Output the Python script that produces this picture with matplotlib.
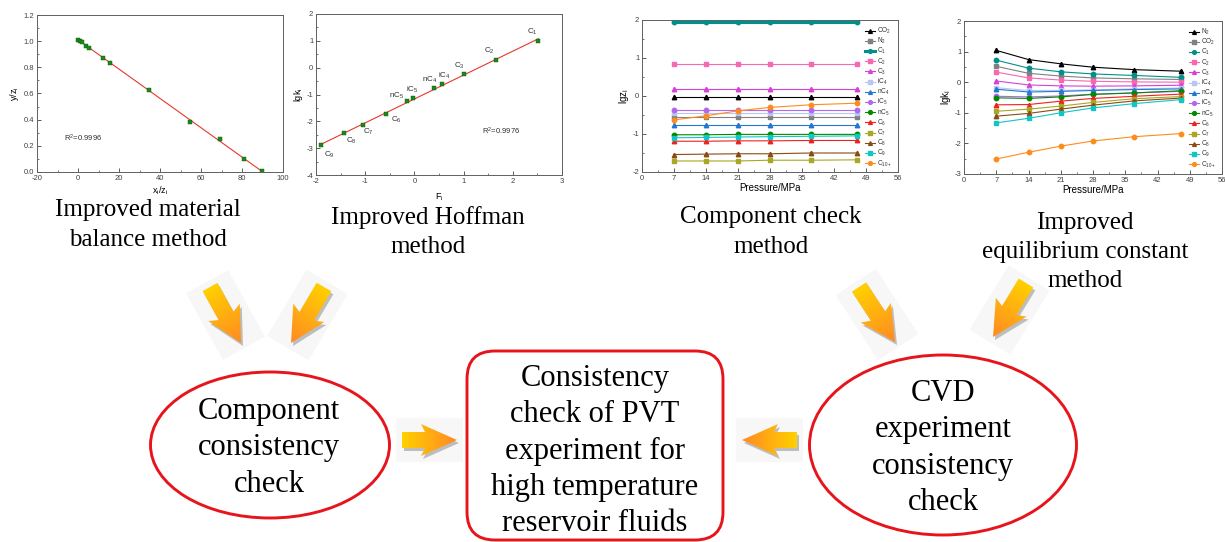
import numpy as np
import matplotlib
matplotlib.use("Agg")
import matplotlib.pyplot as plt
from matplotlib.patches import Ellipse, FancyBboxPatch, Polygon
from matplotlib.colors import LinearSegmentedColormap
from matplotlib.ticker import MultipleLocator

plt.rcParams['font.family'] = ['Liberation Sans', 'DejaVu Sans']
plt.rcParams['mathtext.default'] = 'regular'
plt.rcParams['axes.unicode_minus'] = False

# === Data ===
# improved material balance method
mb_x = [0.2, 1.0, 1.8, 3.8, 5.5, 12.3, 15.4, 34.5, 54.5, 69.5, 81.0, 89.8]
mb_y = [1.01, 1.005, 0.99, 0.965, 0.95, 0.873, 0.835, 0.627, 0.38, 0.25, 0.10, 0.005]
mb_r2 = "R$^2$=0.9996"

# improved Hoffman method
hof_names = ['C$_9$', 'C$_8$', 'C$_7$', 'C$_6$', 'nC$_5$', 'iC$_5$',
             'nC$_4$', 'iC$_4$', 'C$_3$', 'C$_2$', 'C$_1$']
hof_F = [-1.89, -1.44, -1.05, -0.58, -0.16, -0.03, 0.40, 0.56, 1.0, 1.66, 2.52]
hof_lgk = [-2.9, -2.44, -2.15, -1.74, -1.26, -1.13, -0.76, -0.61, -0.24, 0.28, 1.0]
hof_r2 = "R$^2$=0.9976"

pressure = [7, 14, 21, 28, 37, 47]

# component check method (lgz_i)
zi_names = ['CO$_2$', 'N$_2$', 'C$_1$', 'C$_2$', 'C$_3$', 'iC$_4$', 'nC$_4$',
            'iC$_5$', 'nC$_5$', 'C$_6$', 'C$_7$', 'C$_8$', 'C$_9$', 'C$_{10+}$']
zi_values = [
    [-0.02, -0.02, -0.02, -0.02, -0.02, -0.02],
    [-0.56, -0.56, -0.56, -0.56, -0.56, -0.56],
    [1.96, 1.96, 1.96, 1.96, 1.96, 1.96],
    [0.84, 0.84, 0.84, 0.84, 0.84, 0.84],
    [0.18, 0.18, 0.18, 0.18, 0.18, 0.18],
    [-0.45, -0.45, -0.45, -0.45, -0.45, -0.45],
    [-0.76, -0.76, -0.76, -0.76, -0.76, -0.76],
    [-0.36, -0.36, -0.36, -0.36, -0.36, -0.36],
    [-1.02, -1.02, -1.01, -1.01, -1.01, -1.01],
    [-1.19, -1.19, -1.18, -1.18, -1.17, -1.17],
    [-1.71, -1.71, -1.71, -1.69, -1.69, -1.68],
    [-1.54, -1.53, -1.52, -1.52, -1.50, -1.50],
    [-1.10, -1.09, -1.08, -1.07, -1.06, -1.05],
    [-0.63, -0.52, -0.39, -0.30, -0.23, -0.19],
]

# improved equilibrium constant method (lgk_i)
ki_names = ['N$_2$', 'CO$_2$', 'C$_1$', 'C$_2$', 'C$_3$', 'iC$_4$', 'nC$_4$',
            'iC$_5$', 'nC$_5$', 'C$_6$', 'C$_7$', 'C$_8$', 'C$_9$', 'C$_{10+}$']
ki_values = [
    [1.04, 0.74, 0.60, 0.49, 0.41, 0.36],
    [0.52, 0.29, 0.20, 0.14, 0.11, 0.09],
    [0.72, 0.46, 0.34, 0.27, 0.22, 0.16],
    [0.33, 0.14, 0.07, 0.03, 0.01, 0.00],
    [0.04, -0.09, -0.12, -0.13, -0.12, -0.10],
    [-0.18, -0.27, -0.27, -0.25, -0.22, -0.19],
    [-0.23, -0.32, -0.30, -0.27, -0.24, -0.22],
    [-0.46, -0.48, -0.45, -0.39, -0.35, -0.30],
    [-0.51, -0.53, -0.48, -0.40, -0.35, -0.28],
    [-0.74, -0.73, -0.62, -0.53, -0.46, -0.39],
    [-0.95, -0.88, -0.78, -0.66, -0.54, -0.47],
    [-1.11, -1.02, -0.88, -0.75, -0.61, -0.52],
    [-1.33, -1.18, -1.00, -0.84, -0.70, -0.57],
    [-2.51, -2.29, -2.09, -1.92, -1.78, -1.68],
]

# style per legend slot
series_colors = ['#000000', '#808080', '#00908c', '#f768b0', '#d83fd8', '#b9c6f2',
                 '#1f78d1', '#b366f0', '#008a00', '#f02020', '#a8a822', '#8b4a14',
                 '#12c6c6', '#ff8c1a']
series_markers = ['^', 's', 'o', 's', '^', 's', '^', 'o', 'o', '^', 's', '^', 's', 'o']

W, H = 1225, 542
fig = plt.figure(figsize=(W / 100, H / 100), dpi=100)


def px_axes(l, t, r, b):
    return fig.add_axes([l / W, 1 - b / H, (r - l) / W, (b - t) / H])


def style_ax(ax):
    for s in ax.spines.values():
        s.set_color('#606060')
        s.set_linewidth(0.7)
    ax.tick_params(which='both', direction='in', top=False, right=False,
                   labelsize=5.5, colors='#404040', pad=2)
    ax.tick_params(which='major', length=3, width=0.6)
    ax.tick_params(which='minor', length=1.6, width=0.5)


# =====================================================================
# overlay for the flow diagram (pixel coordinates)
# =====================================================================
ov = fig.add_axes([0, 0, 1, 1])
ov.set_xlim(0, W)
ov.set_ylim(H, 0)
ov.axis('off')

grad_cmap = LinearSegmentedColormap.from_list('arr', ['#ffd000', '#ff8a24'])


def arrow(tail, tip, sw=17, hw=36, hl=31):
    tail = np.array(tail, float)
    tip = np.array(tip, float)
    d = tip - tail
    L = np.hypot(*d)
    u = d / L
    n = np.array([-u[1], u[0]])
    neck = tip - u * hl
    pts = [tail + n * sw / 2, neck + n * sw / 2, neck - u * 4 + n * hw / 2, tip,
           neck - u * 4 - n * hw / 2, neck - n * sw / 2, tail - n * sw / 2]
    pts = np.array(pts)
    # faint glow box
    glow = np.array([tail - u * 6 + n * (hw / 2 + 6), tip + u * 6 + n * (hw / 2 + 6),
                     tip + u * 6 - n * (hw / 2 + 6), tail - u * 6 - n * (hw / 2 + 6)])
    ov.add_patch(Polygon(glow, closed=True, facecolor='#f7f7f7', edgecolor='none', zorder=1))
    ov.add_patch(Polygon(pts + np.array([2, 3]), closed=True, facecolor='#bdbdbd',
                         edgecolor='none', zorder=2))
    poly = Polygon(pts, closed=True, facecolor='none', edgecolor='none', zorder=3)
    ov.add_patch(poly)
    x0, y0 = pts.min(axis=0)
    x1, y1 = pts.max(axis=0)
    gx, gy = np.meshgrid(np.linspace(x0, x1, 80), np.linspace(y0, y1, 80))
    t = ((gx - tail[0]) * d[0] + (gy - tail[1]) * d[1]) / L ** 2
    im = ov.imshow(np.clip(t, 0, 1), cmap=grad_cmap, origin='lower',
                   extent=(x0, x1, y0, y1), interpolation='bilinear', zorder=3,
                   aspect='auto')
    im.set_clip_path(poly)


arrow((210, 287), (241, 343))
arrow((324, 287), (291, 343))
arrow((859, 287), (895, 342))
arrow((1026, 283), (993, 337))
arrow((402, 440), (457, 440), sw=16, hw=32, hl=32)
arrow((797, 440), (742, 440), sw=16, hw=32, hl=32)
ov.set_xlim(0, W)
ov.set_ylim(H, 0)

red = '#e8141c'
ov.add_patch(Ellipse((270, 445), 239, 146, facecolor='white', edgecolor=red, lw=2.1, zorder=4))
ov.add_patch(Ellipse((943, 445), 267, 180, facecolor='white', edgecolor=red, lw=2.1, zorder=4))
ov.add_patch(FancyBboxPatch((467, 351), 256, 189, boxstyle='round,pad=0,rounding_size=28',
                            facecolor='white', edgecolor=red, lw=2.1, zorder=4))

serif = ['Liberation Serif', 'DejaVu Serif']
ov.text(148, 225, 'Improved material\nbalance method', ha='center', va='center',
        fontsize=18, family=serif, linespacing=1.42)
ov.text(428, 232, 'Improved Hoffman\nmethod', ha='center', va='center',
        fontsize=18, family=serif, linespacing=1.42)
ov.text(771, 232, 'Component check\nmethod', ha='center', va='center',
        fontsize=18, family=serif, linespacing=1.42)
ov.text(1085, 252, 'Improved\nequilibrium constant\nmethod', ha='center', va='center',
        fontsize=18, family=serif, linespacing=1.42)
ov.text(269, 448, 'Component\nconsistency\ncheck', ha='center', va='center',
        fontsize=22, family=serif, linespacing=1.33, zorder=5)
ov.text(595, 451, 'Consistency\ncheck of PVT\nexperiment for\nhigh temperature\nreservoir fluids',
        ha='center', va='center', fontsize=22, family=serif, linespacing=1.33, zorder=5)
ov.text(943, 448, 'CVD\nexperiment\nconsistency\ncheck', ha='center', va='center',
        fontsize=22, family=serif, linespacing=1.33, zorder=5)

# =====================================================================
# 1. material balance
# =====================================================================
ax1 = px_axes(37, 15, 283, 172)
style_ax(ax1)
k, b = np.polyfit(mb_x, mb_y, 1)
xf = np.array([min(mb_x), max(mb_x)])
ax1.plot(xf, k * xf + b, color='#e8372c', lw=0.8)
ax1.plot(mb_x, mb_y, 's', color='#1a8a1a', ms=3, mec='#0a5a0a', mew=0.3)
ax1.text(-7, 0.26, mb_r2, fontsize=5.5, va='center', color='#303030')
ax1.set_xlim(-20, 100)
ax1.set_ylim(0, 1.2)
ax1.xaxis.set_major_locator(MultipleLocator(20))
ax1.xaxis.set_minor_locator(MultipleLocator(10))
ax1.yaxis.set_major_locator(MultipleLocator(0.2))
ax1.yaxis.set_minor_locator(MultipleLocator(0.1))
ax1.yaxis.set_major_formatter(plt.FormatStrFormatter('%.1f'))
ax1.set_xlabel('x$_i$/z$_i$', fontsize=6.5, labelpad=2)
ax1.set_ylabel('y/z$_i$', fontsize=6.5, labelpad=2)

# =====================================================================
# 2. Hoffman
# =====================================================================
hof_offsets = [(5.6, -6.9), (5.3, -5.4), (3.9, -4.6), (7.4, -4.2), (-7.4, 4.2),
               (-0.7, 5.6), (-3.2, 5.8), (1.5, 5.5), (-2.8, 6.2), (-5, 6.6), (-4.2, 6.6)]
ax2 = px_axes(316, 14, 562, 175)
style_ax(ax2)
k2, b2 = np.polyfit(hof_F, hof_lgk, 1)
xf2 = np.array([min(hof_F), max(hof_F)])
ax2.plot(xf2, k2 * xf2 + b2, color='#e8372c', lw=0.8)
ax2.plot(hof_F, hof_lgk, 's', color='#1a8a1a', ms=3, mec='#0a5a0a', mew=0.3)
for name, xv, yv, off in zip(hof_names, hof_F, hof_lgk, hof_offsets):
    ax2.annotate(name, (xv, yv), xytext=off, textcoords='offset points',
                 ha='center', va='center', fontsize=5.8, color='#303030')
ax2.text(1.37, -2.39, hof_r2, fontsize=5.5, va='center', color='#303030')
ax2.set_xlim(-2, 3)
ax2.set_ylim(-4, 2)
ax2.xaxis.set_major_locator(MultipleLocator(1))
ax2.xaxis.set_minor_locator(MultipleLocator(0.5))
ax2.yaxis.set_major_locator(MultipleLocator(1))
ax2.yaxis.set_minor_locator(MultipleLocator(0.5))
ax2.set_xlabel('F$_i$', fontsize=6.5, labelpad=5)
ax2.set_ylabel('lgk$_i$', fontsize=6.5, labelpad=1)


# =====================================================================
# 3 & 4. pressure series
# =====================================================================
def series_panel(ax, names, values, ylo, yhi):
    style_ax(ax)
    for i, (name, vals) in enumerate(zip(names, values)):
        lw = 2.2 if name == 'C$_1$' and ylo == -2 else 0.8
        ax.plot(pressure, vals, marker=series_markers[i], color=series_colors[i],
                ms=3.2, lw=lw, label=name)
    ax.set_xlim(0, 56)
    ax.set_ylim(ylo, yhi)
    ax.xaxis.set_major_locator(MultipleLocator(7))
    ax.xaxis.set_minor_locator(MultipleLocator(3.5))
    ax.yaxis.set_major_locator(MultipleLocator(1))
    ax.yaxis.set_minor_locator(MultipleLocator(0.5))
    ax.set_xlabel('Pressure/MPa', fontsize=7, labelpad=1)
    leg = ax.legend(loc='upper right', frameon=False, fontsize=4.7, handlelength=1.6,
                    labelspacing=0.0, borderaxespad=0.5, handletextpad=0.3,
                    markerscale=0.85)
    for t in leg.get_texts():
        t.set_color('#303030')


ax3 = px_axes(642, 20, 898, 172)
series_panel(ax3, zi_names, zi_values, -2, 2)
ax3.set_ylabel('lgz$_i$', fontsize=7, labelpad=1)

ax4 = px_axes(964, 21, 1222, 174)
series_panel(ax4, ki_names, ki_values, -3, 2)
ax4.set_ylabel('lgk$_i$', fontsize=7, labelpad=1)

fig.savefig('out.png', dpi=100, facecolor='white')
